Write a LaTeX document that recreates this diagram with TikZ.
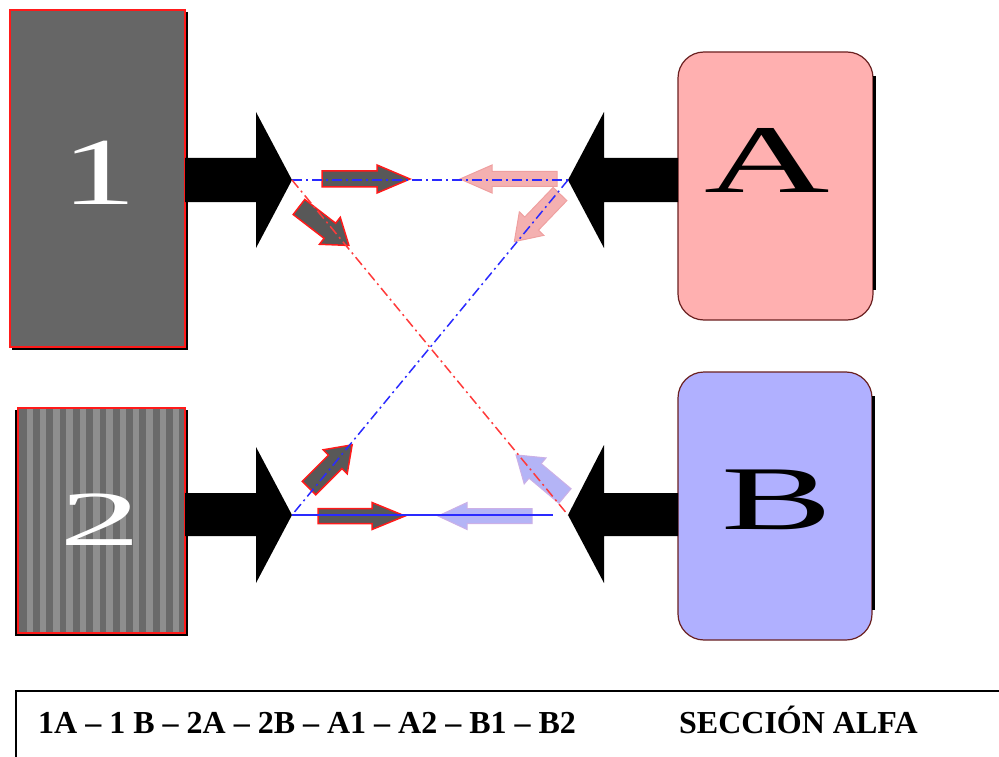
\documentclass[tikz,border=0pt]{standalone}
\usepackage{fontspec}
\setmainfont{Liberation Serif}
\usetikzlibrary{calc}

\definecolor{boxgray}{HTML}{666666}
\definecolor{stripedark}{HTML}{6A6A6A}
\definecolor{stripelight}{HTML}{8E8E8E}
\definecolor{boxred}{HTML}{FF1A1A}
\definecolor{pinkfill}{HTML}{FFB0B0}
\definecolor{bluefill}{HTML}{B0B0FF}
\definecolor{edgebrown}{HTML}{6A2020}
\definecolor{linkblue}{HTML}{2A2AFF}
\definecolor{linkred}{HTML}{FF3A3A}
\definecolor{pinkarrow}{HTML}{F4B0B0}
\definecolor{pinkedge}{HTML}{EFA0A0}
\definecolor{bluearrow}{HTML}{B4B4F6}
\definecolor{blueedge}{HTML}{CCB0E6}
\definecolor{darkarrow}{HTML}{585858}

\tikzset{
  % block arrow along +x: length, head length, body half width, head half width
  pics/blockarrow/.style n args={4}{code={
    \path[pic actions] (0,-#3) -- ({#1-#2},-#3) -- ({#1-#2},-#4) -- (#1,0)
      -- ({#1-#2},#4) -- ({#1-#2},#3) -- (0,#3) -- cycle;}},
  unitbox/.style={rectangle, draw=boxred, line width=2pt, inner sep=0pt, outer sep=0pt},
  roundbox/.style={rectangle, rounded corners=26pt, draw=edgebrown, line width=1.2pt,
    inner sep=0pt, outer sep=0pt},
  digit/.style={text=white, inner sep=0pt},
  letter/.style={text=black, inner sep=0pt},
  bigarrow/.style={fill=black},
  shadowline/.style={draw=black, line width=1.6pt},
  linkline/.style={line width=1.5pt, dash pattern=on 10pt off 4pt on 2pt off 4pt},
  darkblk/.style={fill=darkarrow, draw=boxred, line width=1.5pt},
  pinkblk/.style={fill=pinkarrow, draw=pinkedge, line width=1pt},
  blueblk/.style={fill=bluearrow, draw=blueedge, line width=1pt},
  caption/.style={anchor=base west, inner sep=0pt, font=\fontsize{32}{32}\selectfont\bfseries},
}

\begin{document}
\begin{tikzpicture}[x=1pt, y=-1pt]
\useasboundingbox (0,0) rectangle (999,757);

% tip points of the four big arrows
\coordinate (p1) at (292,180);
\coordinate (p2) at (292,515);
\coordinate (qa) at (568,180);
\coordinate (qb) at (568,515);

% unit 1
\node[unitbox, fill=boxgray, minimum width=175pt, minimum height=337pt] (u1) at (97.5,178.5) {};
\draw[shadowline] ($(u1.north east)+(1.8,2)$) -- ($(u1.south east)+(1.8,1.8)$) -- ($(u1.south west)+(2,1.8)$);

% unit 2 (striped)
\node[unitbox, fill=stripedark, minimum width=167pt, minimum height=225pt] (u2) at (101.5,520.5) {};
\begin{scope}
  \clip (u2.north west) rectangle (u2.south east);
  \foreach \k in {0,...,11}
    \fill[stripelight] ({26.5+13.3*\k},400) rectangle ({33+13.3*\k},640);
\end{scope}
\draw[boxred, line width=2pt] (u2.north west) rectangle (u2.south east);
\draw[shadowline] ($(u2.north west)+(-1.8,2)$) -- ($(u2.south west)+(-1.8,1.8)$) -- ($(u2.south east)+(1.8,1.8)$) -- ($(u2.north east)+(1.8,2)$);

% big black arrows
\fill[bigarrow] ($(u1.east)+(0,-20.5)$) -- (256,158) -- (256,112) -- (p1) -- (256,248) -- (256,202) -- ($(u1.east)+(0,23.5)$) -- cycle;
\fill[bigarrow] ($(u2.east)+(0,-27.5)$) -- (256,493) -- (256,447) -- (p2) -- (256,583) -- (256,536) -- ($(u2.east)+(0,15.5)$) -- cycle;

% unit A
\node[roundbox, fill=pinkfill, minimum width=195pt, minimum height=268pt] (ua) at (775.5,186) {};
\draw[black, line width=2.5pt] ($(ua.north east)+(1.5,24)$) -- ($(ua.south east)+(1.5,-30)$);
% unit B
\node[roundbox, fill=bluefill, minimum width=194pt, minimum height=268pt] (ub) at (775,506) {};
\draw[black, line width=2.5pt] ($(ub.north east)+(1.5,24)$) -- ($(ub.south east)+(1.5,-30)$);

\fill[bigarrow] ($(ua.west)+(0,-28)$) -- (604,158) -- (604,112) -- (qa) -- (604,248) -- (604,202) -- ($(ua.west)+(0,16)$) -- cycle;
\fill[bigarrow] ($(ub.west)+(0,-13)$) -- (604,493) -- (604,445) -- (qb) -- (604,583) -- (604,536) -- ($(ub.west)+(0,30)$) -- cycle;

% labels
\node[digit, font=\fontsize{96}{96}\selectfont] (l1) at (99.5,172.5) {\scalebox{1.57}[1]{1}};
\node[digit, font=\fontsize{78}{78}\selectfont] (l2) at (100,520) {\scalebox{2.1}[1]{2}};
\node[letter, font=\fontsize{97}{97}\selectfont] (la) at (767,160) {\scalebox{1.79}[1]{A}};
\node[letter, font=\fontsize{91}{91}\selectfont] (lb) at (777,500) {\scalebox{1.83}[1]{B}};

% small direction arrows
\pic[darkblk] (m1) at (322,179) {blockarrow={88}{33}{8}{14}};
\pic[pinkblk, rotate=180] (m2) at (557,179) {blockarrow={97}{32}{7.5}{14}};
\pic[darkblk, rotate=-37.6] (m3) at (299,207) {blockarrow={63}{24}{9.5}{17}};
\pic[pinkblk, rotate=-133.8] (m4) at (560,194) {blockarrow={66}{25}{9.5}{17}};
\pic[darkblk, rotate=45] (m5) at (309,488) {blockarrow={61}{24}{9.5}{17}};
\pic[blueblk, rotate=140] (m6) at (565,496) {blockarrow={64}{25}{9.5}{17}};
\pic[darkblk] (m7) at (318,516) {blockarrow={87}{33}{7.5}{13.5}};
\pic[blueblk, rotate=180] (m8) at (532,516) {blockarrow={94}{29}{7.5}{13.5}};

% links
\draw[linkline, linkblue] (p1) -- (qa);
\draw[linkline, linkred] (p1) -- (qb);
\draw[linkline, linkblue] (qa) -- (p2);
\draw[linkblue, line width=1.5pt] (p2) -- ($(qb)+(-15,0)$);

% caption frame
\draw[line width=1.8pt] (999,691) -- (16,691) -- (16,757);
\node[caption] (c1) at (38,733) {1A – 1 B – 2A – 2B – A1 – A2 – B1 – B2};
\node[caption] (c2) at (679,733) {SECCIÓN ALFA};
\end{tikzpicture}
\end{document}
